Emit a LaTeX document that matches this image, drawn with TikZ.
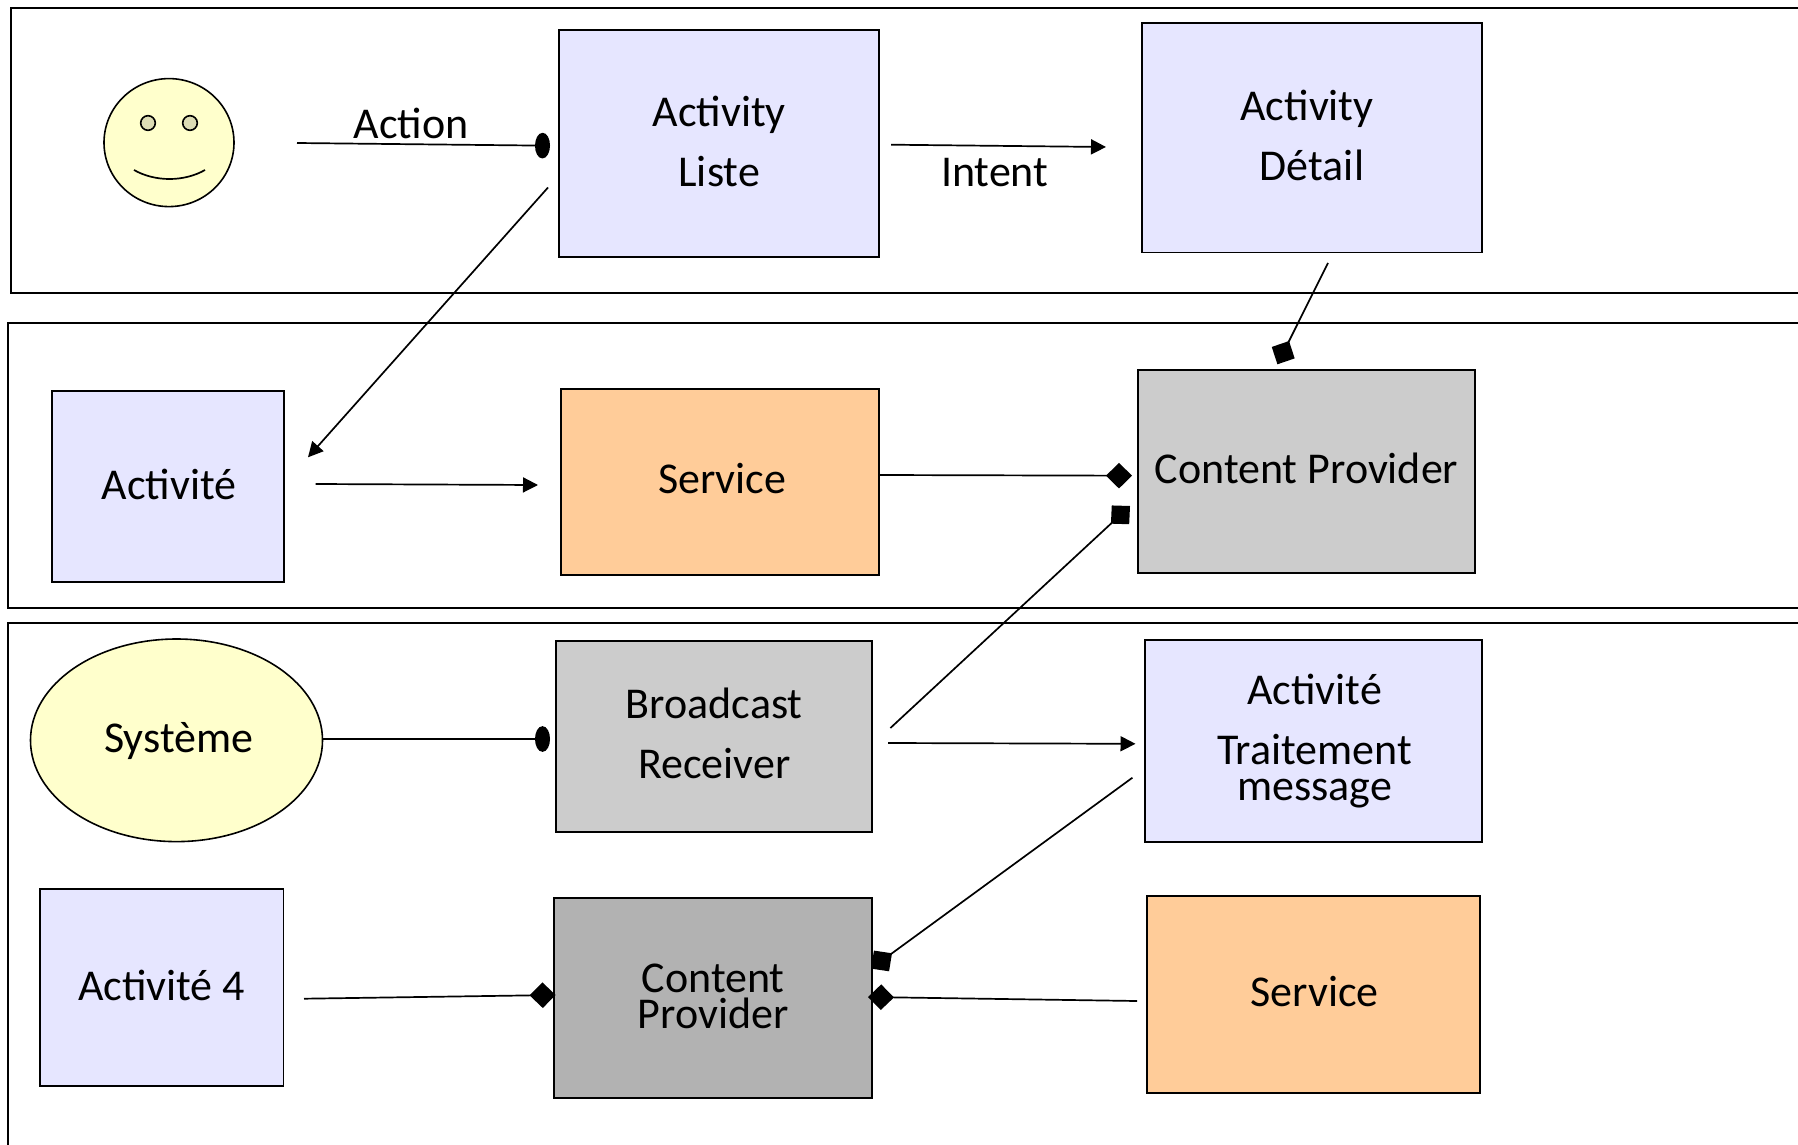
\documentclass[tikz,border=0pt]{standalone}
\usepackage{fontspec}
\setmainfont{Carlito}
\usetikzlibrary{shapes.geometric,arrows.meta}
\definecolor{lav}{HTML}{E6E6FF}
\definecolor{orng}{HTML}{FFCC99}
\definecolor{yel}{HTML}{FFFFCC}
\definecolor{gra}{HTML}{CCCCCC}
\definecolor{grb}{HTML}{B2B2B2}
\definecolor{eye}{HTML}{DDDDB5}
\tikzset{
  boxn/.style={draw=black,line width=.9pt,inner sep=0pt,fill=#1},
  ell/.style={draw=black,line width=.8pt,ellipse,inner sep=0pt,fill=yel},
  lbl/.style={inner sep=0pt,align=center,font=\fontsize{22}{30}\selectfont},
  panel/.style={draw=black,line width=1pt},
  conn/.style={draw=black,line width=.85pt},
  toTri/.style={conn,-{Triangle[length=7.5pt,width=7.5pt]}},
  toDia/.style={conn,-{Diamond[length=13pt,width=12.8pt]}},
  toEll/.style={conn,-{Ellipse[length=7.5pt,width=12.8pt]}}
}
\begin{document}
\begin{tikzpicture}[x=0.5pt,y=-0.5pt]
\useasboundingbox (0,0) rectangle (1798,1145);
% panels
\draw[panel] (1798,8) -- (10.5,8) -- (10.5,292.5) -- (1798,292.5);
\draw[panel] (1798,322.6) -- (8,322.6) -- (8,607.6) -- (1798,607.6);
\draw[panel] (1798,622.6) -- (8,622.6) -- (8,1145);
% smiley
\node[ell,minimum width=65pt,minimum height=64pt] (face) at (169,142.6) {};
\draw[line width=.8pt,fill=eye] (148,123) ellipse (7.3 and 7.3);
\draw[line width=.8pt,fill=eye] (190,123) ellipse (7.3 and 7.3);
\draw[line width=.85pt] (134,170) .. controls (155,182) and (184,182) .. (205,170);
% boxes
\node[boxn=lav,minimum width=160pt,minimum height=113.3pt,label={[lbl,yshift=1.2pt]center:{Activity\\Liste}}] (liste) at (719.2,143.5) {};
\node[boxn=lav,minimum width=169.7pt,minimum height=114.8pt,label={[lbl,yshift=.9pt]center:{\hspace*{-5pt}Activity\\Détail}}] (detail) at (1312,137.6) {};
\node[boxn=lav,minimum width=116pt,minimum height=95.5pt,label={[lbl,yshift=1.2pt,xshift=.5pt]center:{Activité}}] (activite) at (167.9,486.4) {};
\node[boxn=orng,minimum width=159pt,minimum height=93pt,label={[lbl,yshift=1.7pt,xshift=1pt]center:{Service}}] (service) at (720.2,481.9) {};
\node[boxn=gra,minimum width=168.3pt,minimum height=101.3pt,label={[lbl,yshift=1.7pt]center:{Content Provider}}] (cp) at (1306.5,471.5) {};
\node[boxn=gra,minimum width=158pt,minimum height=95.4pt,label={[lbl,yshift=1.4pt]center:{Broadcast\\Receiver}}] (broadcast) at (714.3,736.6) {};
\node[boxn=lav,minimum width=168.3pt,minimum height=100.7pt,label={[lbl,yshift=-.2pt,xshift=.5pt]center:{Activité\\[0pt]Traitement\\[-12pt]message}}] (traitement) at (1313.5,740.9) {};
\node[boxn=lav,minimum width=121.8pt,minimum height=98.8pt,label={[lbl,yshift=1.2pt]center:{Activité 4}}] (act4) at (161.6,987.5) {};
\node[boxn=grb,minimum width=159pt,minimum height=99.7pt,label={[lbl,yshift=.9pt]center:{Content\\[-12pt]Provider}}] (cp2) at (713.2,997.9) {};
\node[boxn=orng,minimum width=166.2pt,minimum height=98.4pt,label={[lbl,yshift=1.2pt,xshift=.5pt]center:{Service}}] (service2) at (1313.4,994.2) {};
\node[ell,minimum width=146pt,minimum height=101.3pt,label={[lbl,yshift=-.5pt,xshift=1.1pt]center:{Système}}] (systeme) at (176.5,740.3) {};
% labels
\node[lbl] (action) at (411,123) {Action};
\node[lbl] (intent) at (994.7,172.6) {Intent};
% free ends
\coordinate (a1) at (297,143);
\coordinate (a2) at (550,145.7);
\coordinate (b1) at (891,144.7);
\coordinate (b2) at (1106,147);
\coordinate (c1) at (548,187.5);
\coordinate (c2) at (308,457.3);
\coordinate (d1) at (315.7,484);
\coordinate (d2) at (538,485);
\coordinate (e1) at (879.4,475);
\coordinate (e2) at (1132,475.7);
\coordinate (f1) at (1328,263);
\coordinate (f2) at (1277.4,364.3);
\coordinate (g1) at (890.4,728);
\coordinate (g2) at (1130,506);
\coordinate (h1) at (888,743);
\coordinate (h2) at (1135.5,743.8);
\coordinate (i1) at (1132.4,777.7);
\coordinate (i2) at (871,968.6);
\coordinate (j1) at (1137,1001);
\coordinate (j2) at (868,997);
\coordinate (k1) at (322.6,739);
\coordinate (k2) at (550,739);
\coordinate (l1) at (304,998.7);
\coordinate (l2) at (555.6,995);
% connectors
\draw[toEll] (a1) -- (a2);
\draw[toTri] (b1) -- (b2);
\draw[toTri] (c1) -- (c2);
\draw[toTri] (d1) -- (d2);
\draw[toDia] (e1) -- (e2);
\draw[toDia] (f1) -- (f2);
\draw[toDia] (g1) -- (g2);
\draw[toTri] (h1) -- (h2);
\draw[toDia] (i1) -- (i2);
\draw[toDia] (j1) -- (j2);
\draw[toEll] (k1) -- (k2);
\draw[toDia] (l1) -- (l2);
\end{tikzpicture}
\end{document}
